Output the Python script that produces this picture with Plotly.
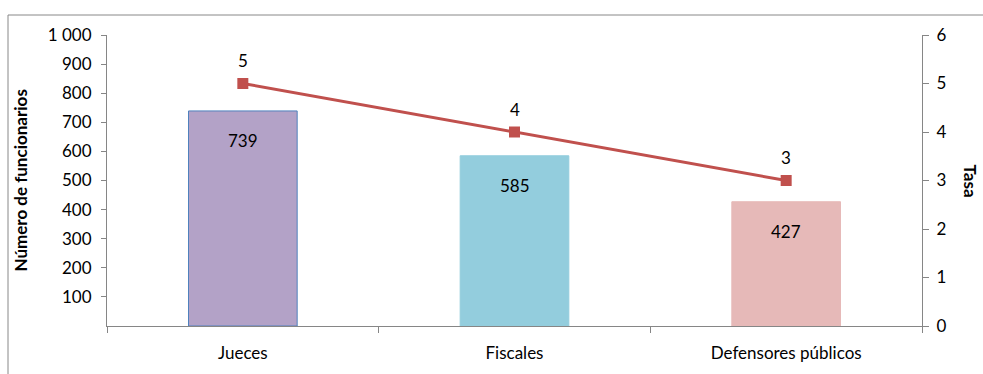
import plotly.graph_objects as go

categories = ["Jueces", "Fiscales", "Defensores públicos"]
funcionarios = [739, 585, 427]
tasa = [5, 4, 3]
bar_colors = ["#B3A2C7", "#93CDDD", "#E6B9B8"]
bar_line_colors = ["#4F81BD", "#93CDDD", "#E6B9B8"]
left_tickvals = [100, 200, 300, 400, 500, 600, 700, 800, 900, 1000]
left_ticktext = ["100", "200", "300", "400", "500", "600", "700", "800", "900", "1 000"]
right_tickvals = [0, 1, 2, 3, 4, 5, 6]

FONT = "Lato, 'Open Sans', sans-serif"
FS = 17
W, H = 983, 374
ml, mr, mt, mb = 107, 61, 35, 48

fig = go.Figure()
fig.add_trace(go.Bar(
    x=categories, y=funcionarios, width=0.4,
    marker=dict(color=bar_colors, line=dict(color=bar_line_colors, width=1)),
    showlegend=False, hoverinfo="skip", yaxis="y",
))
fig.add_trace(go.Scatter(
    x=categories, y=tasa, mode="lines+markers", yaxis="y2",
    line=dict(color="#C0504D", width=3),
    marker=dict(symbol="square", size=11, color="#C0504D"),
    showlegend=False, hoverinfo="skip",
))

annotations = []
for c, v in zip(categories, funcionarios):
    annotations.append(dict(x=c, y=v, xref="x", yref="y", text=str(v), showarrow=False,
                            yshift=-30, font=dict(family=FONT, size=FS, color="#000")))
for c, v in zip(categories, tasa):
    annotations.append(dict(x=c, y=v, xref="x", yref="y2", text=str(v), showarrow=False,
                            yshift=23, font=dict(family=FONT, size=FS, color="#000")))
pw = W - ml - mr
ph = H - mt - mb
annotations.append(dict(x=(20 - ml) / pw, y=0.5, xref="paper", yref="paper",
                        xanchor="center", yanchor="middle",
                        text="<b>Número de funcionarios</b>", textangle=-90, showarrow=False,
                        font=dict(family=FONT, size=17, color="#000")))
annotations.append(dict(x=(970 - ml) / pw, y=0.5, xref="paper", yref="paper",
                        xanchor="center", yanchor="middle",
                        text="<b>Tasa</b>", textangle=90, showarrow=False,
                        font=dict(family=FONT, size=17, color="#000")))

def px_x(p):
    return (p - ml) / pw

def px_y(p):
    return (H - mb - p) / ph

shapes = [
    dict(type="line", xref="paper", yref="paper", x0=px_x(8), x1=px_x(983), y0=px_y(15), y1=px_y(15),
         line=dict(color="#888888", width=1)),
    dict(type="line", xref="paper", yref="paper", x0=px_x(8), x1=px_x(8), y0=px_y(15), y1=px_y(374),
         line=dict(color="#888888", width=1)),
]

fig.update_layout(
    width=W, height=H,
    margin=dict(l=ml, r=mr, t=mt, b=mb, autoexpand=False),
    paper_bgcolor="white", plot_bgcolor="white",
    font=dict(family=FONT, size=FS, color="#000"),
    bargap=0.6,
    xaxis=dict(type="category", showline=True, linecolor="#868686", linewidth=1,
               ticks="outside", tickson="boundaries", ticklen=6, tickcolor="#868686",
               showgrid=False, tickfont=dict(family=FONT, size=FS), fixedrange=True,
               ticklabelstandoff=12, automargin=False),
    yaxis=dict(range=[0, 1000], tickvals=left_tickvals, ticktext=left_ticktext,
               showline=True, linecolor="#868686", linewidth=1, ticks="outside",
               ticklen=5, tickcolor="#868686", showgrid=False, zeroline=False,
               tickfont=dict(family=FONT, size=FS), ticklabelstandoff=6, automargin=False),
    yaxis2=dict(range=[0, 6], tickvals=right_tickvals, overlaying="y", side="right",
                showline=True, linecolor="#868686", linewidth=1, ticks="outside",
                ticklen=6, tickcolor="#868686", showgrid=False, zeroline=False,
                tickfont=dict(family=FONT, size=FS), ticklabelstandoff=4, automargin=False),
    annotations=annotations,
    shapes=shapes,
)

fig.write_html("out.html", config={"displayModeBar": False},
               post_script="document.body.style.margin='0';")
